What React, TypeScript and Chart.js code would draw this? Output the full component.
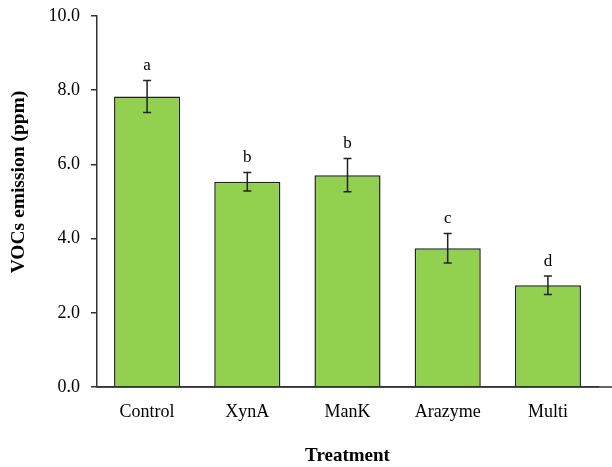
import React, { useEffect, useRef } from "react";
import { Chart, registerables } from "chart.js";

Chart.register(...registerables);

const categories = ["Control", "XynA", "ManK", "Arazyme", "Multi"];
const emission = [7.83, 5.53, 5.71, 3.74, 2.74];
const errors = [0.43, 0.25, 0.45, 0.4, 0.25];
const letters = ["a", "b", "b", "c", "d"];
const yTicks = [0, 2, 4, 6, 8, 10];

const FONT = "'Liberation Serif', 'Times New Roman', serif";

const extrasPlugin = {
  id: "extras",
  afterDatasetsDraw(chart: any) {
    const { ctx, scales, chartArea } = chart;
    const meta = chart.getDatasetMeta(0);
    const y = scales.y;
    ctx.save();
    ctx.strokeStyle = "#222";
    ctx.lineWidth = 1.5;
    meta.data.forEach((bar: any, i: number) => {
      const x = bar.x;
      const top = y.getPixelForValue(emission[i] + errors[i]);
      const bot = y.getPixelForValue(emission[i] - errors[i]);
      ctx.beginPath();
      ctx.moveTo(x, top);
      ctx.lineTo(x, bot);
      ctx.moveTo(x - 4, top);
      ctx.lineTo(x + 4, top);
      ctx.moveTo(x - 4, bot);
      ctx.lineTo(x + 4, bot);
      ctx.stroke();
      ctx.fillStyle = "#000";
      ctx.font = `17px ${FONT}`;
      ctx.textAlign = "center";
      ctx.textBaseline = "middle";
      ctx.fillText(letters[i], x, top - 15);
    });
    // extended x axis line
    ctx.strokeStyle = "#333";
    ctx.lineWidth = 1.5;
    ctx.beginPath();
    ctx.moveTo(chartArea.left, chartArea.bottom);
    ctx.lineTo(chart.width, chartArea.bottom);
    ctx.stroke();
    ctx.restore();
  },
};

export default function App() {
  const ref = useRef<HTMLCanvasElement>(null);
  useEffect(() => {
    document.body.style.margin = "0";
    const chart = new Chart(ref.current!, {
      type: "bar",
      data: {
        labels: categories,
        datasets: [
          {
            data: emission,
            backgroundColor: "#92D050",
            borderColor: "#222",
            borderWidth: 1.5,
            barPercentage: 0.66,
            categoryPercentage: 1,
          },
        ],
      },
      options: {
        animation: false,
        responsive: false,
        layout: { padding: { top: 16, right: 14, left: 0, bottom: 0 } },
        plugins: { legend: { display: false }, tooltip: { enabled: false } },
        scales: {
          x: {
            grid: { display: false, drawTicks: false },
            border: { display: true, color: "#333", width: 1.5 },
            ticks: { color: "#000", font: { family: FONT, size: 18 }, padding: 14 },
            title: {
              display: true,
              text: "Treatment",
              color: "#000",
              font: { family: FONT, size: 19, weight: "bold" },
              padding: { top: 0, bottom: 0 },
            },
            afterFit(scale: any) {
              scale.height = 80;
              scale.paddingLeft = 0;
              scale.paddingRight = 0;
            },
          },
          y: {
            min: 0,
            max: 10,
            afterBuildTicks(scale: any) {
              scale.ticks = yTicks.map((v) => ({ value: v }));
            },
            grid: {
              drawOnChartArea: false,
              drawTicks: true,
              tickLength: 6,
              color: "#333",
              lineWidth: 1.5,
            },
            border: { display: true, color: "#333", width: 1.5 },
            ticks: {
              color: "#000",
              font: { family: FONT, size: 18 },
              padding: 11,
              callback: (v: any) => Number(v).toFixed(1),
            },
            title: {
              display: true,
              text: "\u0020".repeat(8) + "VOCs emission (ppm)",
              color: "#000",
              font: { family: FONT, size: 19.5, weight: "bold" },
              padding: { top: 7, bottom: 0 },
            },
            afterFit(scale: any) {
              scale.width = 97;
              scale.paddingTop = 0;
              scale.paddingBottom = 0;
            },
          },
        },
      },
      plugins: [extrasPlugin],
    } as any);
    return () => chart.destroy();
  }, []);
  return <canvas ref={ref} width={612} height={467} style={{ display: "block" }} />;
}
